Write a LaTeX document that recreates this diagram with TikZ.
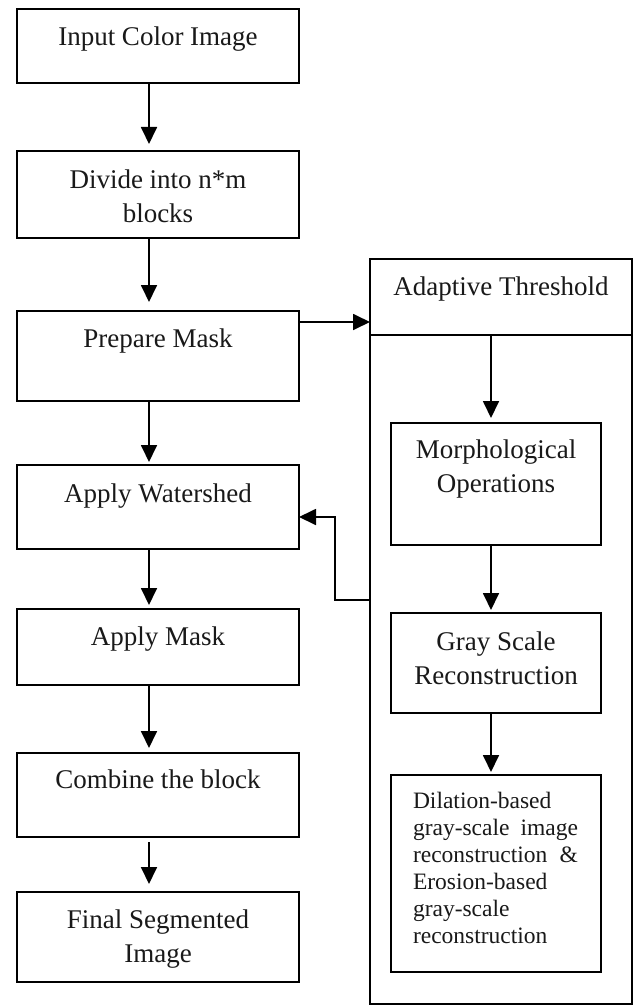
\documentclass[tikz,border=0pt]{standalone}
\usepackage{fontspec}
\setmainfont{Liberation Serif}
\usetikzlibrary{arrows.meta,calc}

\newcommand{\mainsize}{\fontsize{27}{34}\selectfont}
\newcommand{\smallsize}{\fontsize{23.5}{27}\selectfont}

\begin{document}
\begin{tikzpicture}[x=1pt,y=-1pt,
  every node/.style={inner sep=0pt, outer sep=0pt},
  blk/.style={draw=black, line width=1.8pt, fill=none},
  lbl/.style={anchor=base, font=\mainsize, text=black!90},
  arr/.style={line width=1.8pt, -{Triangle[length=17pt,width=16pt]}}]

\useasboundingbox[fill=white] (0,0) rectangle (634,1006);

% left column of processing steps
\node[blk, minimum width=282pt, minimum height=74pt] (b1) at (158,46) {};
\node[blk, minimum width=282pt, minimum height=87pt] (b2) at (158,194.5) {};
\node[blk, minimum width=282pt, minimum height=90pt] (b3) at (158,356) {};
\node[blk, minimum width=282pt, minimum height=84pt] (b4) at (158,507) {};
\node[blk, minimum width=282pt, minimum height=76pt] (b5) at (158,647) {};
\node[blk, minimum width=282pt, minimum height=84pt] (b6) at (158,795) {};
\node[blk, minimum width=282pt, minimum height=90pt] (b7) at (158,937) {};

\node[lbl] (t1) at ([yshift=-37pt]b1.north) {\begin{tabular}[t]{c}Input Color Image\end{tabular}};
\node[lbl] (t2) at ([yshift=-37pt]b2.north) {\begin{tabular}[t]{c}Divide into n*m\\blocks\end{tabular}};
\node[lbl] (t3) at ([yshift=-36pt]b3.north) {\begin{tabular}[t]{c}Prepare Mask\end{tabular}};
\node[lbl] (t4) at ([yshift=-37pt]b4.north) {\begin{tabular}[t]{c}Apply Watershed\end{tabular}};
\node[lbl] (t5) at ([yshift=-36pt]b5.north) {\begin{tabular}[t]{c}Apply Mask\end{tabular}};
\node[lbl] (t6) at ([yshift=-35pt]b6.north) {\begin{tabular}[t]{c}Combine the block\end{tabular}};
\node[lbl] (t7) at ([yshift=-36pt]b7.north) {\begin{tabular}[t]{c}Final Segmented\\Image\end{tabular}};

% adaptive threshold panel
\node[blk, minimum width=262pt, minimum height=745pt] (outer) at (501,631.5) {};
\node[blk, minimum width=262pt, minimum height=76pt] (hdr) at (501,297) {};
\node[lbl] (th) at ([yshift=-36pt]hdr.north) {\begin{tabular}[t]{c}Adaptive Threshold\end{tabular}};

\node[blk, minimum width=210pt, minimum height=122pt] (m) at (496,484) {};
\node[blk, minimum width=210pt, minimum height=100pt] (g) at (496,663) {};
\node[blk, minimum width=210pt, minimum height=197pt] (d) at (496,873.5) {};

\node[lbl] (tm) at ([yshift=-35pt]m.north) {\begin{tabular}[t]{c}Morphological\\Operations\end{tabular}};
\node[lbl] (tg) at ([yshift=-37pt]g.north) {\begin{tabular}[t]{c}Gray Scale\\Reconstruction\end{tabular}};
\node[anchor=base west, font=\smallsize, text=black!90] (td) at ([xshift=22pt,yshift=-33pt]d.north west)
  {\begin{tabular}[t]{@{}l@{}}Dilation-based\\
   \makebox[165pt][s]{gray-scale image}\\
   \makebox[165pt][s]{reconstruction \&}\\
   Erosion-based\\gray-scale\\reconstruction\end{tabular}};

% connectors
\draw[arr, shorten >=7pt] ([xshift=-9pt]b1.south) -- ([xshift=-9pt]b2.north);
\draw[arr, shorten >=9pt] ([xshift=-9pt]b2.south) -- ([xshift=-9pt]b3.north);
\draw[arr, shorten >=3pt] ([xshift=-9pt]b3.south) -- ([xshift=-9pt]b4.north);
\draw[arr, shorten >=4pt] ([xshift=-9pt]b4.south) -- ([xshift=-9pt]b5.north);
\draw[arr, shorten >=5pt] ([xshift=-9pt]b5.south) -- ([xshift=-9pt]b6.north);
\draw[arr, shorten <=5pt, shorten >=8pt] ([xshift=-9pt]b6.south) -- ([xshift=-9pt]b7.north);

\draw[arr] ([yshift=34pt]b3.east) -- ([yshift=34pt]b3.east -| hdr.west);

\draw[arr, shorten >=5pt] ([xshift=-10pt]hdr.south) -- ([xshift=-5pt]m.north);
\draw[arr, shorten >=3pt] ([xshift=-5pt]m.south) -- ([xshift=-5pt]g.north);
\draw[arr, shorten >=3pt] ([xshift=-5pt]g.south) -- ([xshift=-5pt]d.north);

\draw[arr] ([yshift=31.5pt]outer.west) -- ++(-35pt,0) |- ([yshift=-10pt]b4.east);
\end{tikzpicture}
\end{document}
